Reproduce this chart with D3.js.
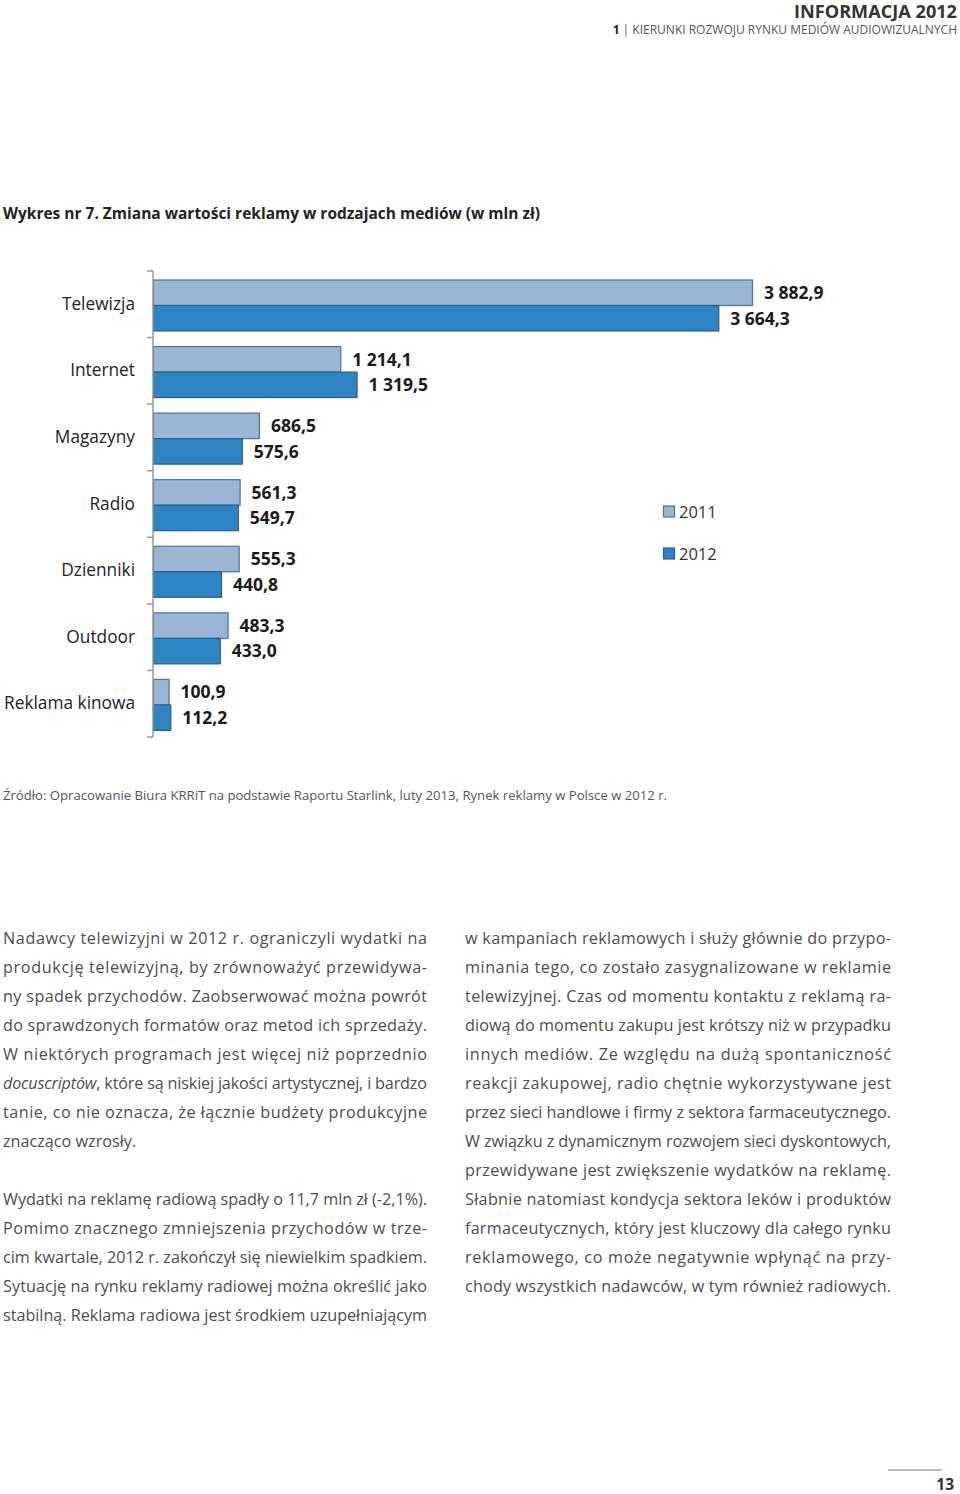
<!DOCTYPE html>
<html><head><meta charset="utf-8">
<script src="https://cdn.jsdelivr.net/npm/d3@7/dist/d3.min.js"></script>
<style>
body{margin:0;background:#fff;}
svg{display:block;}
</style></head>
<body>
<svg id="c" width="960" height="1494"></svg>
<script>
const categories = ["Telewizja","Internet","Magazyny","Radio","Dzienniki","Outdoor","Reklama kinowa"];
const series = ["2011","2012"];
const values2011 = [3882.9, 1214.1, 686.5, 561.3, 555.3, 483.3, 100.9];
const values2012 = [3664.3, 1319.5, 575.6, 549.7, 440.8, 433.0, 112.2];
const labels2011 = ["3 882,9","1 214,1","686,5","561,3","555,3","483,3","100,9"];
const labels2012 = ["3 664,3","1 319,5","575,6","549,7","440,8","433,0","112,2"];

const leftLines = [
 ["Nadawcy telewizyjni w 2012 r. ograniczyli wydatki na", true],
 ["produkcję telewizyjną, by zrównoważyć przewidywa-", true],
 ["ny spadek przychodów. Zaobserwować można powrót", true],
 ["do sprawdzonych formatów oraz metod ich sprzedaży.", true],
 ["W niektórych programach jest więcej niż poprzednio", true],
 ["@docuscriptów@, które są niskiej jakości artystycznej, i bardzo", true],
 ["tanie, co nie oznacza, że łącznie budżety produkcyjne", true],
 ["znacząco wzrosły.", false],
 null,
 ["Wydatki na reklamę radiową spadły o 11,7 mln zł (-2,1%).", true],
 ["Pomimo znacznego zmniejszenia przychodów w trze-", true],
 ["cim kwartale, 2012 r. zakończył się niewielkim spadkiem.", true],
 ["Sytuację na rynku reklamy radiowej można określić jako", true],
 ["stabilną. Reklama radiowa jest środkiem uzupełniającym", true]
];
const rightLines = [
 ["w kampaniach reklamowych i służy głównie do przypo-", true],
 ["minania tego, co zostało zasygnalizowane w reklamie", true],
 ["telewizyjnej. Czas od momentu kontaktu z reklamą ra-", true],
 ["diową do momentu zakupu jest krótszy niż w przypadku", true],
 ["innych mediów. Ze względu na dużą spontaniczność", true],
 ["reakcji zakupowej, radio chętnie wykorzystywane jest", true],
 ["przez sieci handlowe i firmy z sektora farmaceutycznego.", true],
 ["W związku z dynamicznym rozwojem sieci dyskontowych,", true],
 ["przewidywane jest zwiększenie wydatków na reklamę.", true],
 ["Słabnie natomiast kondycja sektora leków i produktów", true],
 ["farmaceutycznych, który jest kluczowy dla całego rynku", true],
 ["reklamowego, co może negatywnie wpłynąć na przy-", true],
 ["chody wszystkich nadawców, w tym również radiowych.", true]
];

const svg = d3.select("#c");
const FONT = "'Open Sans', sans-serif";
const c2011 = "#9bb6d5", s2011 = "#4d7299";
const c2012 = "#2f84c3", s2012 = "#285f8d";

// Header
svg.append("text").attr("x",957).attr("y",18).attr("text-anchor","end")
  .attr("font-family",FONT).attr("font-weight",700).attr("font-size",17.5).attr("fill","#333")
  .attr("textLength",163).attr("lengthAdjust","spacingAndGlyphs")
  .text("INFORMACJA 2012");
const sub = svg.append("text").attr("x",957).attr("y",34).attr("text-anchor","end")
  .attr("font-family",FONT).attr("font-size",12).attr("fill","#555");
sub.append("tspan").attr("font-weight",700).attr("fill","#222").text("1");
sub.append("tspan").text(" | KIERUNKI ROZWOJU RYNKU MEDIÓW AUDIOWIZUALNYCH");

// Title
svg.append("text").attr("x",3).attr("y",219)
  .attr("font-family",FONT).attr("font-weight",700).attr("font-size",15.5).attr("fill","#222")
  .attr("textLength",537).attr("lengthAdjust","spacingAndGlyphs")
  .text("Wykres nr 7. Zmiana wartości reklamy w rodzajach mediów (w mln zł)");

// Scales
const x = d3.scaleLinear().domain([0, 3882.9]).range([153, 752]);
const y = d3.scaleBand().domain(categories).range([271, 737]).padding(0);
const yi = d3.scaleBand().domain(series).range([9, 60]).padding(0);

const data = categories.map((c,i)=>({cat:c, v:[values2011[i], values2012[i]], l:[labels2011[i], labels2012[i]]}));

const g = svg.append("g");
const grp = g.selectAll("g.cat").data(data).join("g").attr("class","cat")
  .attr("transform", d=>`translate(0,${y(d.cat)})`);

series.forEach((s,si)=>{
  grp.append("rect")
    .attr("x", x(0)+0.5)
    .attr("y", yi(s))
    .attr("width", d=>x(d.v[si])-x(0))
    .attr("height", yi.bandwidth())
    .attr("fill", si===0?c2011:c2012)
    .attr("stroke", si===0?s2011:s2012)
    .attr("stroke-width",1.2);
  grp.append("text")
    .attr("x", d=>x(d.v[si])+12)
    .attr("y", yi(s)+yi.bandwidth()/2)
    .attr("dy","0.36em")
    .attr("font-family",FONT).attr("font-weight",700).attr("font-size",17.5).attr("fill","#1a1a1a")
    .text(d=>d.l[si]);
});

// Axis
const axis = d3.axisLeft(y).tickSize(0).tickPadding(18);
const ag = svg.append("g").attr("transform","translate(153,0)").call(axis);
ag.select(".domain").attr("stroke","#999").attr("stroke-width",1.5).attr("d","M0,271V737");
ag.selectAll(".tick text").attr("font-family",FONT).attr("font-size",17.3).attr("fill","#222");
// boundary ticks
const bounds = d3.range(categories.length+1).map(i=> i<categories.length ? y(categories[i]) : y.range()[1]);
ag.selectAll("line.b").data(bounds).join("line").attr("class","b")
  .attr("x1",-6).attr("x2",0).attr("y1",d=>d).attr("y2",d=>d)
  .attr("stroke","#999").attr("stroke-width",1.5);

// Legend
const lg = svg.append("g").attr("transform","translate(663,0)");
series.forEach((s,i)=>{
  const yy = 512 + i*42;
  lg.append("rect").attr("x",0.5).attr("y",yy-6).attr("width",11).attr("height",11)
    .attr("fill", i===0?c2011:c2012).attr("stroke", i===0?s2011:s2012).attr("stroke-width",1.2);
  lg.append("text").attr("x",16).attr("y",yy).attr("dy","0.36em")
    .attr("font-family",FONT).attr("font-size",16.5).attr("fill","#333").text(s);
});

// Source
svg.append("text").attr("x",3).attr("y",800)
  .attr("font-family",FONT).attr("font-size",13.5).attr("fill","#555")
  .attr("textLength",664).attr("lengthAdjust","spacingAndGlyphs")
  .text("Źródło: Opracowanie Biura KRRiT na podstawie Raportu Starlink, luty 2013, Rynek reklamy w Polsce w 2012 r.");

// Body text
function drawCol(lines, x0, width){
  lines.forEach((ln,i)=>{
    if(!ln) return;
    const yy = 938 + i*29 + 6;
    const t = svg.append("text").attr("x",x0).attr("y",yy)
      .attr("font-family",FONT).attr("font-size",16.2).attr("fill","#4d4d4d");
    const parts = ln[0].split("@");
    parts.forEach((p,pi)=>{ if(p) t.append("tspan").attr("font-style", pi%2? "italic":"normal").text(p); });
    if(ln[1]) t.attr("textLength",width).attr("lengthAdjust","spacing");
  });
}
drawCol(leftLines, 3, 424);
drawCol(rightLines, 465, 426);

// page number
svg.append("line").attr("x1",888).attr("x2",942).attr("y1",1470).attr("y2",1470).attr("stroke","#777").attr("stroke-width",1);
svg.append("text").attr("x",954).attr("y",1490).attr("text-anchor","end")
  .attr("font-family",FONT).attr("font-weight",700).attr("font-size",15.5).attr("fill","#333").text("13");
</script>
</body></html>
